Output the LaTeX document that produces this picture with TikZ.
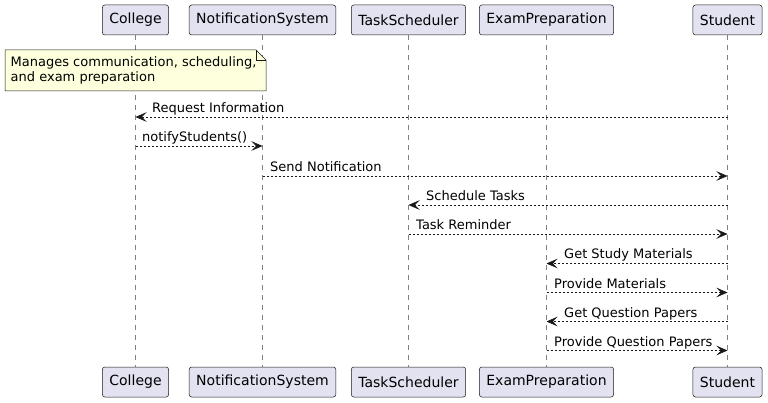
\documentclass[tikz,border=0pt]{standalone}
\usepackage{fontspec}
\setmainfont{DejaVu Sans}
\usetikzlibrary{arrows.meta}
\definecolor{partfill}{HTML}{E2E2F0}
\definecolor{edgec}{HTML}{181818}
\definecolor{notefill}{HTML}{FEFFDD}
\begin{document}
\begin{tikzpicture}[x=1pt,y=-1pt,
 part/.style={draw=edgec, fill=partfill, rounded corners=2.5pt, minimum height=30pt, inner xsep=7pt, inner ysep=0pt, font=\fontsize{14}{16}\selectfont, line width=0.5pt},
 life/.style={draw=edgec!55, dash pattern=on 5pt off 5pt, line width=0.6pt},
 msg/.style={draw=edgec, line width=0.7pt, dash pattern=on 2pt off 2pt, -{Stealth[length=11pt,width=9.5pt,inset=4.5pt,line width=0.6pt]}},
 lbl/.style={font=\fontsize{13}{15}\selectfont, inner sep=0pt, anchor=base west, text=black},
 notebox/.style={draw=edgec, fill=notefill, line width=0.5pt}]
\useasboundingbox (0,0) rectangle (768,403);
% participants
\node[part] (cT) at (135.5,20) {College};
\node[part] (nT) at (262.5,20) {NotificationSystem};
\node[part] (tT) at (408.5,20) {TaskScheduler};
\node[part] (eT) at (546.5,20) {ExamPreparation};
\node[part] (sT) at (727.5,20) {Student};
\node[part] (cB) at (135.5,382) {College};
\node[part] (nB) at (262.5,382) {NotificationSystem};
\node[part] (tB) at (408.5,382) {TaskScheduler};
\node[part] (eB) at (546.5,382) {ExamPreparation};
\node[part] (sB) at (727.5,382) {Student};
% lifelines
\foreach \p in {c,n,t,e,s} {\draw[life] (\p T.south) -- (\p B.north);}
% note
\draw[notebox] (5,50) -- (256,50) -- (266,60) -- (266,91) -- (5,91) -- cycle;
\draw[notebox, fill=none] (256,50) -- (256,60) -- (266,60);
\node[font=\fontsize{13}{14.5}\selectfont, align=left, inner sep=0pt, anchor=north west] (note) at (10.5,56.5) {Manages communication, scheduling,\\and exam preparation};
% message rows
\coordinate (y1) at (0,117);
\coordinate (y2) at (0,146);
\coordinate (y3) at (0,176);
\coordinate (y4) at (0,205);
\coordinate (y5) at (0,234);
\coordinate (y6) at (0,263.5);
\coordinate (y7) at (0,292.5);
\coordinate (y8) at (0,321.5);
\coordinate (y9) at (0,350.5);
\draw[msg] (sT |- y1) -- (cT |- y1);
\node[lbl] (l1) at (152,112.5) {Request Information};
\draw[msg] (cT |- y2) -- (nT |- y2);
\node[lbl] (l2) at (142,141.5) {notifyStudents()};
\draw[msg] (nT |- y3) -- (sT |- y3);
\node[lbl] (l3) at (270,171.5) {Send Notification};
\draw[msg] (sT |- y4) -- (tT |- y4);
\node[lbl] (l4) at (426,200.5) {Schedule Tasks};
\draw[msg] (tT |- y5) -- (sT |- y5);
\node[lbl] (l5) at (416,229.5) {Task Reminder};
\draw[msg] (sT |- y6) -- (eT |- y6);
\node[lbl] (l6) at (564,259) {Get Study Materials};
\draw[msg] (eT |- y7) -- (sT |- y7);
\node[lbl] (l7) at (554,288) {Provide Materials};
\draw[msg] (sT |- y8) -- (eT |- y8);
\node[lbl] (l8) at (564,317) {Get Question Papers};
\draw[msg] (eT |- y9) -- (sT |- y9);
\node[lbl] (l9) at (554,346) {Provide Question Papers};
\end{tikzpicture}
\end{document}
